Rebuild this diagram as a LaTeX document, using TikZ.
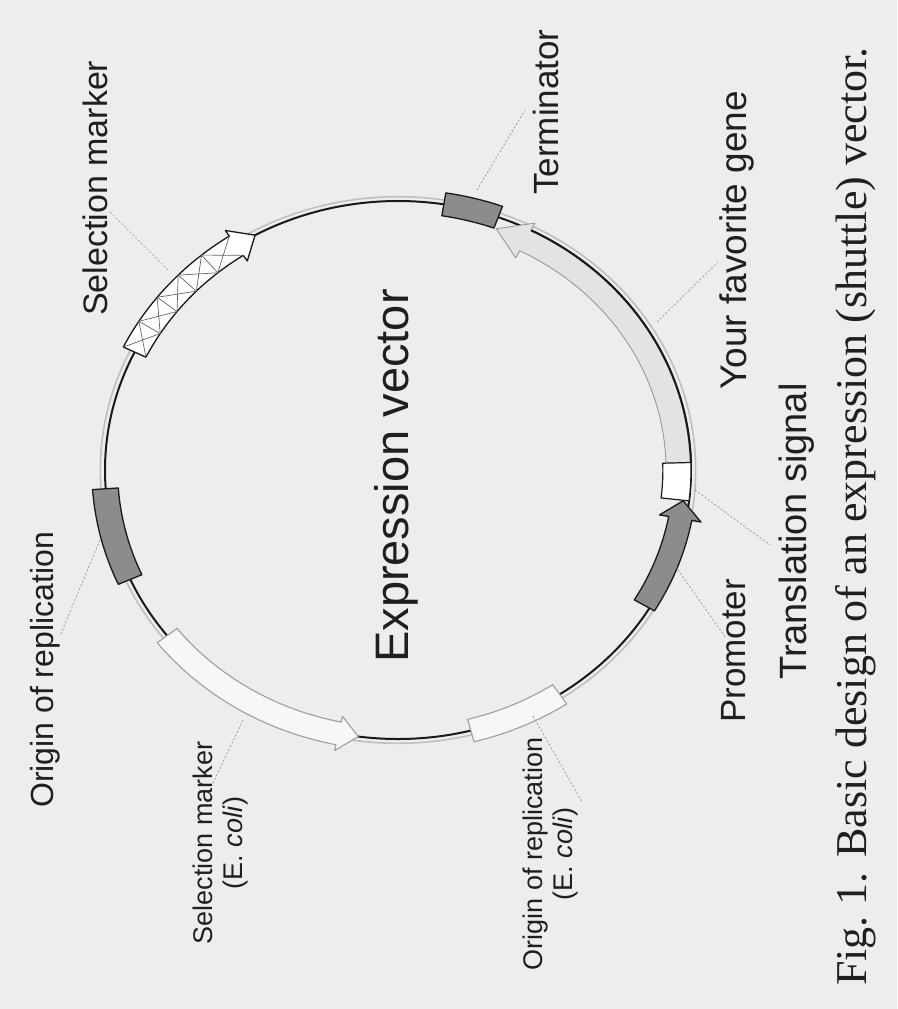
\documentclass[tikz,border=0pt]{standalone}
\usepackage{fontspec}
\setmainfont{Liberation Serif}
\newfontfamily\labelfont{Liberation Sans}

% annular segment of the backbone between two angles and two radii
\newcommand\band[5]{%
  \draw[#5] plot[domain=#1:#2,samples=30] (\x:#4) -- plot[domain=#2:#1,samples=30] (\x:#3) -- cycle;}
% curved arrow: tail angle, head-base angle, tip angle, inner r, outer r, barb overhang, style
\newcommand\arrowband[7]{%
  \draw[#7] plot[domain=#1:#2,samples=30] (\x:#5) -- ({#2}:{#5+#6}) -- ({#3}:{(#4+#5)/2})
    -- ({#2}:{#4-#6}) -- plot[domain=#2:#1,samples=30] (\x:#4) -- cycle;}

\begin{document}
\begin{tikzpicture}[x=1pt,y=-1pt,
  lbl/.style={font=\labelfont, text=black!88, inner sep=0pt},
  leader/.style={draw=black!42, line width=0.7pt, dash pattern=on 2pt off 2pt},
  darkpart/.style={fill=black!45, draw=black!90, line width=1.3pt, line join=round},
  lightpart/.style={fill=white!97!black, draw=black!38, line width=1.1pt, line join=round},
  whitepart/.style={fill=white, draw=black!90, line width=1.2pt},
  genepart/.style={fill=black!11, draw=black!40, line width=0.9pt, line join=round},
  hatchpart/.style={fill=white, draw=black!90, line width=1.3pt, line join=round},
  hatch/.style={draw=black!60, line width=0.7pt},
  backbone/.style={draw=black!90, line width=2pt},
  trace/.style={draw=black!25, line width=1.6pt}]

\fill[black!7] (0,0) rectangle (897,1009);
\useasboundingbox (0,0) rectangle (897,1009);

\begin{scope}[shift={(398,470)}, x=293pt, y=-269pt]
  % plasmid backbone with its faint outer trace
  \draw[trace] plot[domain=0:360,samples=181,smooth] (\x:1.016) -- cycle;
  \draw[backbone] plot[domain=0:360,samples=181,smooth] (\x:1) -- cycle;

  % origin of replication
  \band{156}{176}{0.957}{1.045}{darkpart}
  % terminator
  \band{-81}{-70}{0.957}{1.043}{darkpart}
  % origin of replication (E. coli)
  \band{56.5}{75.6}{0.957}{1.043}{lightpart}
  % selection marker (E. coli)
  \arrowband{142}{101.7}{97.8}{0.957}{1.043}{0.022}{lightpart}
  % your favorite gene
  \arrowband{-1.6}{-63}{-69.5}{0.915}{1.0}{0.03}{genepart}
  \draw[backbone] plot[domain=-63:-1.6,samples=40] (\x:1);
  % translation signal
  \band{-1.6}{6.6}{0.904}{1.0}{whitepart}
  % promoter
  \arrowband{30.9}{10.6}{6.7}{0.94}{1.02}{0.032}{darkpart}
  % selection marker with cross hatching
  \arrowband{206}{236.5}{240.8}{0.957}{1.043}{0.025}{hatchpart}
  \foreach \a/\b in {206/212,212/218,218/224,224/230,230/236.5}
    \draw[hatch] (\a:0.957) -- (\b:1.043) (\a:1.043) -- (\b:0.957);
  \foreach \a in {212,218,224,230}
    \draw[hatch] (\a:0.957) -- (\a:1.043);
\end{scope}

% labels
\node[lbl, font=\labelfont\fontsize{32}{36}\selectfont, rotate=90, anchor=base west] (lOri) at (53,808) {Origin of replication};
\node[lbl, font=\labelfont\fontsize{34}{38}\selectfont, rotate=90, anchor=base west] (lSel) at (107,316) {Selection marker};
\node[lbl, font=\labelfont\fontsize{27}{30}\selectfont, rotate=90, align=center] (lSelE) at (221,843) {Selection marker\\(E.~\textit{coli})};
\node[lbl, font=\labelfont\fontsize{27}{30}\selectfont, rotate=90, align=center] (lOriE) at (551,854) {Origin of replication\\(E.~\textit{coli})};
\node[lbl, font=\labelfont\fontsize{47}{52}\selectfont, rotate=90, anchor=base west] (lVec) at (408,663) {Expression vector};
\node[lbl, font=\labelfont\fontsize{35}{40}\selectfont, rotate=90, anchor=base west] (lProm) at (745,723) {Promoter};
\node[lbl, font=\labelfont\fontsize{38}{42}\selectfont, rotate=90, anchor=base west] (lTrans) at (806,680) {Translation signal};
\node[lbl, font=\labelfont\fontsize{37}{42}\selectfont, rotate=90, anchor=base west] (lGene) at (746,390) {Your favorite gene};
\node[lbl, font=\labelfont\fontsize{35}{40}\selectfont, rotate=90, anchor=base west] (lTerm) at (558,195) {Terminator};
\node[inner sep=0pt, text=black!88, font=\fontsize{44}{50}\selectfont, rotate=90, anchor=base west] (cap) at (866,986) {Fig.~1. Basic design of an expression (shuttle) vector.};

% leader lines
\coordinate (pSel) at (168,270);   \coordinate (eSel) at (110,212);
\coordinate (pOri) at (100,540);   \coordinate (eOri) at (60,636);
\coordinate (pSelE) at (243,720);  \coordinate (eSelE) at (213,783);
\coordinate (pOriE) at (533,716);  \coordinate (eOriE) at (582,802);
\coordinate (pProm) at (671,560);  \coordinate (eProm) at (726,638);
\coordinate (pTrans) at (695,490); \coordinate (eTrans) at (770,545);
\coordinate (pGene) at (657,322);  \coordinate (eGene) at (718,262);
\coordinate (pTerm) at (477,190);  \coordinate (eTerm) at (525,110);
\draw[leader] (pSel) -- (eSel);
\draw[leader] (pOri) -- (eOri);
\draw[leader] (pSelE) -- (eSelE);
\draw[leader] (pOriE) -- (eOriE);
\draw[leader] (pProm) -- (eProm);
\draw[leader] (pTrans) -- (eTrans);
\draw[leader] (pGene) -- (eGene);
\draw[leader] (pTerm) -- (eTerm);
\end{tikzpicture}
\end{document}
